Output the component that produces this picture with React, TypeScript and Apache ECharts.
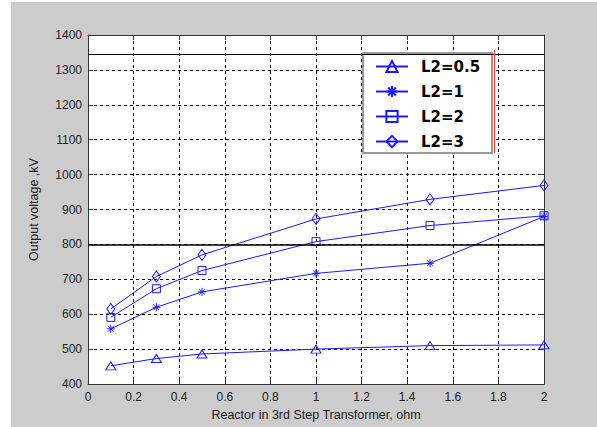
import React, { useEffect, useRef } from "react";
import * as echarts from "echarts";

const xValues = [0.1, 0.3, 0.5, 1, 1.5, 2];
const seriesNames = ["L2=0.5", "L2=1", "L2=2", "L2=3"];
const l2_05 = [452, 473, 486, 500, 510, 512];
const l2_1 = [558, 620, 664, 717, 746, 880];
const l2_2 = [591, 673, 725, 808, 854, 882];
const l2_3 = [615, 708, 770, 873, 929, 969];
const refLevels = [800, 1345];
const redLineX = 1.78;
const redLineRange = [1062, 1357];

const BLUE = "#1a1aff";
const ASTERISK = "path://M5 0 L5 10 M0 5 L10 5 M1.5 1.5 L8.5 8.5 M1.5 8.5 L8.5 1.5";

export default function App() {
  const ref = useRef<HTMLDivElement>(null);
  useEffect(() => {
    if (!ref.current) return;
    const chart = echarts.init(ref.current, null, { renderer: "svg" });
    const mk = (name: string, vals: number[], symbol: string, size: number | number[]) => ({
      name,
      type: "line",
      data: xValues.map((x, i) => [x, vals[i]]),
      symbol,
      symbolSize: size,
      showSymbol: true,
      clip: false,
      lineStyle: { color: BLUE, width: 1 },
      itemStyle: { color: "rgba(255,255,255,0)", borderColor: BLUE, borderWidth: 1 },
      emphasis: { disabled: true },
      z: 3,
    });
    const s0: any = mk(seriesNames[0], l2_05, "triangle", [10, 8]);
    s0.markLine = {
      silent: true,
      symbol: "none",
      label: { show: false },
      animation: false,
      data: [
        { yAxis: refLevels[0], lineStyle: { color: "#000", width: 1.6, type: "solid" } },
        { yAxis: refLevels[1], lineStyle: { color: "#000", width: 1.2, type: "solid" } },
        [
          { coord: [redLineX, redLineRange[1]], lineStyle: { color: "#ff3333", width: 1.2, type: "solid" } },
          { coord: [redLineX, redLineRange[0]] },
        ],
      ],
    };
    const series = [
      s0,
      mk(seriesNames[1], l2_1, ASTERISK, 8),
      mk(seriesNames[2], l2_2, "rect", 8),
      mk(seriesNames[3], l2_3, "diamond", [8, 11]),
    ];
    const labelStyle = { color: "#222", fontSize: 12, fontFamily: "Liberation Sans, Arial, sans-serif" };
    const split = { show: true, lineStyle: { color: "#000", type: [3, 3], width: 1 } };
    chart.setOption({
      animation: false,
      grid: {
        left: 88,
        top: 35,
        right: 53,
        bottom: 43,
        show: true,
        backgroundColor: "#ffffff",
        borderWidth: 0,
      },
      legend: {
        show: true,
        orient: "vertical",
        left: 375,
        top: 59,
        itemWidth: 32,
        itemHeight: 14,
        itemGap: 10,
        padding: 0,
        z: 6,
        data: seriesNames,
        textStyle: {
          color: "#000",
          fontSize: 15,
          fontWeight: "bold",
          fontFamily: "DejaVu Sans, sans-serif",
          padding: [0, 0, 0, 8],
        },
      },
      graphic: [
        {
          type: "rect",
          z: 5,
          shape: { x: 363, y: 53, width: 129, height: 100 },
          style: { fill: "#ffffff", stroke: "#999999", lineWidth: 2 },
        },
      ],
      xAxis: [
        {
          type: "value",
          min: 0,
          max: 2,
          interval: 0.2,
          name: "Reactor in 3rd Step Transformer, ohm",
          nameLocation: "middle",
          nameGap: 24,
          nameTextStyle: { ...labelStyle, fontSize: 12.5 },
          axisLine: { show: true, onZero: false, lineStyle: { color: "#333", width: 1 } },
          axisTick: { show: true, inside: true, length: 5, lineStyle: { color: "#333" } },
          axisLabel: { ...labelStyle, margin: 7, formatter: (v: number) => String(Math.round(v * 10) / 10) },
          splitLine: split,
        },
        {
          type: "value",
          position: "top",
          min: 0,
          max: 2,
          interval: 0.2,
          axisLine: { show: true, onZero: false, lineStyle: { color: "#333", width: 1 } },
          axisTick: { show: true, inside: true, length: 5, lineStyle: { color: "#333" } },
          axisLabel: { show: false },
          splitLine: { show: false },
        },
      ],
      yAxis: [
        {
          type: "value",
          min: 400,
          max: 1400,
          interval: 100,
          name: "Output voltage ,kV",
          nameLocation: "middle",
          nameGap: 48,
          nameTextStyle: { ...labelStyle, fontSize: 12.5 },
          axisLine: { show: true, onZero: false, lineStyle: { color: "#333", width: 1 } },
          axisTick: { show: true, inside: true, length: 5, lineStyle: { color: "#333" } },
          axisLabel: { ...labelStyle, margin: 6, formatter: (v: number) => String(v) },
          splitLine: split,
        },
        {
          type: "value",
          position: "right",
          min: 400,
          max: 1400,
          interval: 100,
          axisLine: { show: true, onZero: false, lineStyle: { color: "#333", width: 1 } },
          axisTick: { show: true, inside: true, length: 5, lineStyle: { color: "#333" } },
          axisLabel: { show: false },
          splitLine: { show: false },
        },
      ],
      series,
    });
    return () => chart.dispose();
  }, []);
  return (
    <div style={{ position: "fixed", left: 0, top: 0, width: 597, height: 427, background: "#ffffff" }}>
      <div style={{ position: "absolute", left: 11, top: 2, width: 586, height: 425, background: "#cccccc" }} />
      <div ref={ref} style={{ position: "absolute", left: 0, top: 0, width: 597, height: 427 }} />
    </div>
  );
}
